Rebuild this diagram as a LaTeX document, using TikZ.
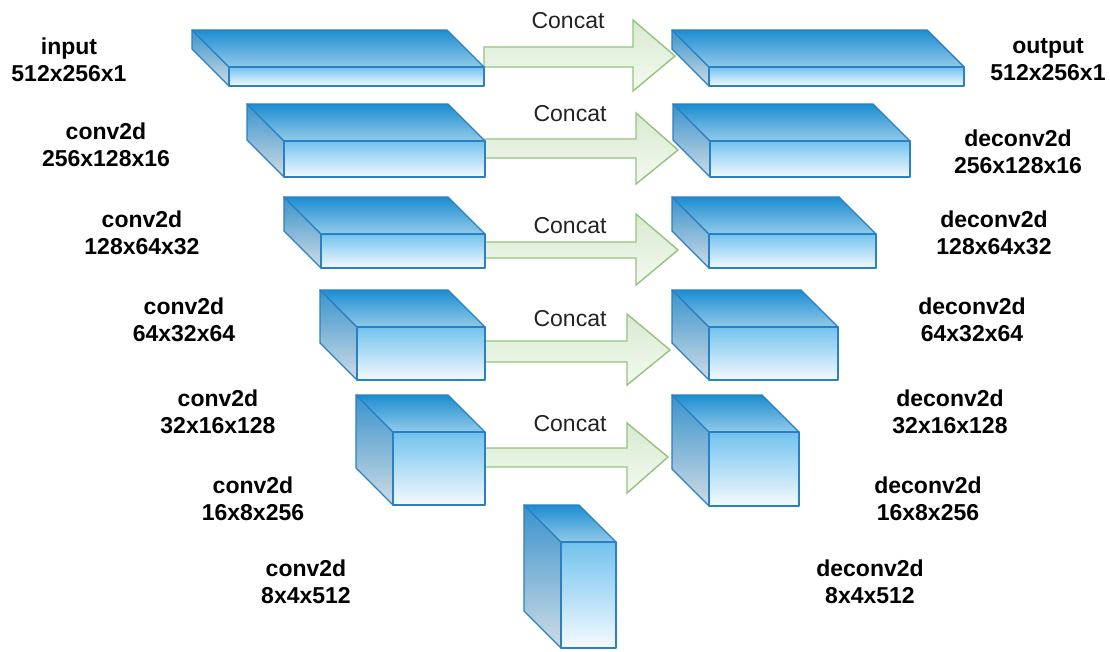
\documentclass[tikz,border=0pt]{standalone}
\usepackage{fontspec}
\setmainfont{Liberation Sans}
\begin{document}
\begin{tikzpicture}[x=1pt,y=-1pt,
  edge/.style={draw=blueedge,line width=1.4pt,line join=round},
  topface/.style={edge,top color=topdark,bottom color=toplight},
  sideface/.style={edge,top color=sidedark,bottom color=sidelight},
  frontface/.style={edge,top color=frontdark,bottom color=frontlight},
  concatarrow/.style={draw=arrowedge,line width=1.4pt,line join=miter,top color=arrowtop,bottom color=arrowbottom},
  lbl/.style={font=\bfseries\fontsize{23}{27}\selectfont,align=center,text=black,inner sep=0pt},
  concat/.style={font=\fontsize{23}{27}\selectfont,text=textgray,inner sep=0pt}]
\definecolor{blueedge}{HTML}{2A80C2}
\definecolor{topdark}{HTML}{1C8DD0}
\definecolor{toplight}{HTML}{92CAE9}
\definecolor{sidedark}{HTML}{3A93CC}
\definecolor{sidelight}{HTML}{CFDCE4}
\definecolor{frontdark}{HTML}{72C2EE}
\definecolor{frontlight}{HTML}{F4FAFE}
\definecolor{arrowedge}{HTML}{93C47D}
\definecolor{arrowtop}{HTML}{D8EAD0}
\definecolor{arrowbottom}{HTML}{F4F9F1}
\definecolor{textgray}{HTML}{222222}
\useasboundingbox (0,0) rectangle (1110,651);

% block: #1 name, front face (#2,#3)-(#4,#5), depth 37
\newcommand\ublock[5]{%
  \path[sideface] (#2,#3) -- (#2-37,#3-37) -- (#2-37,#5-37) -- (#2,#5) -- cycle;
  \path[topface] (#2,#3) -- (#2-37,#3-37) -- (#4-37,#3-37) -- (#4,#3) -- cycle;
  \path[frontface] (#2,#3) rectangle (#4,#5);
  \coordinate (#1) at ({(#2+#4)/2},{(#3+#5)/2});
}
% arrow: shaft x0..xb, y top/bottom; head base xb, head top/bottom, tip
\newcommand\carrow[8]{%
  \path[concatarrow] (#1,#3) -- (#2,#3) -- (#2,#5) -- (#7,#8) -- (#2,#6) -- (#2,#4) -- (#1,#4) -- cycle;
}

% concat arrows (drawn first)
\carrow{484}{633}{47}{67}{20}{91}{675}{56}
\carrow{485}{636}{139}{158}{113}{184}{678}{150}
\carrow{485}{636}{242}{258}{214}{285}{678}{250}
\carrow{485}{627}{341}{362}{314}{385}{670}{350}
\carrow{485}{627}{448}{467}{423}{493}{668}{457}

\node[concat] (c1) at (568,21) {Concat};
\node[concat] (c2) at (570,114) {Concat};
\node[concat] (c3) at (570,226) {Concat};
\node[concat] (c4) at (570,319) {Concat};
\node[concat] (c5) at (570,424) {Concat};

% encoder blocks
\ublock{e1}{229}{67}{484}{86}
\ublock{e2}{284}{141}{485}{177}
\ublock{e3}{321}{234}{485}{268}
\ublock{e4}{357}{327}{485}{380}
\ublock{e5}{393}{432}{485}{505}
\ublock{e6}{561}{542}{616}{648}
% decoder blocks
\ublock{d1}{709}{67}{964}{86}
\ublock{d2}{710}{141}{910}{177}
\ublock{d3}{709}{234}{876}{268}
\ublock{d4}{709}{327}{838}{380}
\ublock{d5}{709}{432}{799}{506}

% labels
\node[lbl] (li) at (69,60) {input\\512x256x1};
\node[lbl] (l1) at (106,145) {conv2d\\256x128x16};
\node[lbl] (l2) at (142,233) {conv2d\\128x64x32};
\node[lbl] (l3) at (184,320) {conv2d\\64x32x64};
\node[lbl] (l4) at (218,412) {conv2d\\32x16x128};
\node[lbl] (l5) at (253,499) {conv2d\\16x8x256};
\node[lbl] (l6) at (306,582) {conv2d\\8x4x512};
\node[lbl] (lo) at (1048,60) {output\\512x256x1};
\node[lbl] (r1) at (1018,152) {deconv2d\\256x128x16};
\node[lbl] (r2) at (994,233) {deconv2d\\128x64x32};
\node[lbl] (r3) at (972,320) {deconv2d\\64x32x64};
\node[lbl] (r4) at (950,412) {deconv2d\\32x16x128};
\node[lbl] (r5) at (928,499) {deconv2d\\16x8x256};
\node[lbl] (r6) at (870,582) {deconv2d\\8x4x512};
\end{tikzpicture}
\end{document}
